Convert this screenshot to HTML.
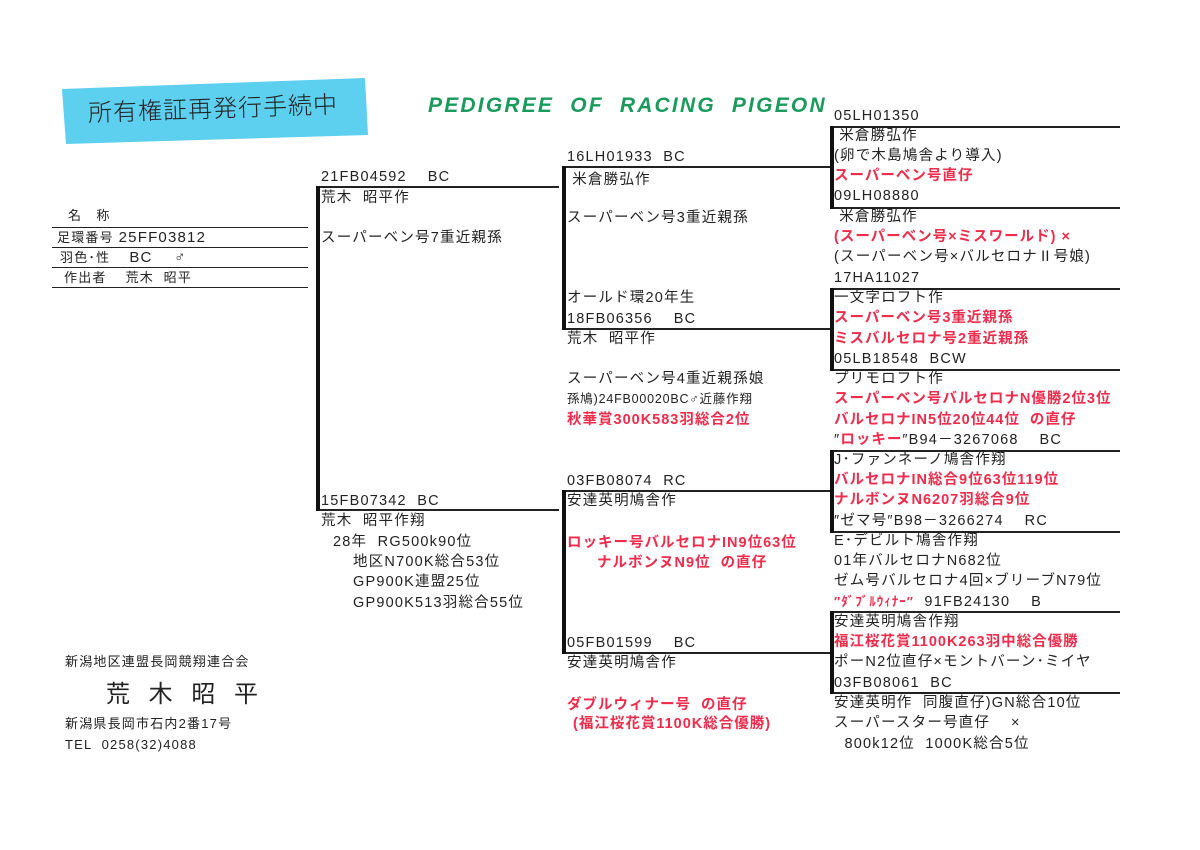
<!DOCTYPE html>
<html><head><meta charset="utf-8"><style>
body{margin:0;width:1200px;height:850px;background:#fff;position:relative;overflow:hidden;font-family:"Liberation Sans","Noto Sans CJK JP",sans-serif;color:#222}
.t{position:absolute;font-size:14.5px;line-height:20px;white-space:pre;letter-spacing:1.2px}
.r{color:#ee2c4c;font-weight:bold;letter-spacing:1px}
.h{position:absolute;height:2px;background:#222}
.v{position:absolute;width:4px;background:#111}
.s{font-size:12.5px;letter-spacing:0.8px}
</style></head><body>
<svg style="position:absolute;left:0;top:0" width="1200" height="850">
<polygon points="62,89 365,78 368,135 66,144" fill="#5cd0ee"/>
</svg>
<div class="t" style="left:88px;top:92px;font-size:24px;line-height:30px;font-family:'Noto Sans CJK JP',sans-serif;font-weight:300;color:#222;transform:rotate(-2deg);letter-spacing:1px">所有権証再発行手続中</div>
<div class="t" style="left:428px;top:93px;font-size:21px;line-height:26px;font-weight:bold;font-style:italic;color:#1a9a5c;letter-spacing:2.2px">PEDIGREE&nbsp; OF&nbsp; RACING&nbsp; PIGEON</div>

<!-- left table -->
<div class="h" style="left:52px;top:227px;width:256px;height:1px"></div>
<div class="h" style="left:52px;top:247px;width:256px;height:1px"></div>
<div class="h" style="left:52px;top:267px;width:256px;height:1px"></div>
<div class="h" style="left:52px;top:287px;width:256px;height:1px"></div>
<div class="t" style="left:68px;top:206px;font-size:13px">名　称</div>
<div class="t" style="left:57px;top:228px;font-size:13px">足環番号 <span style="font-size:15px">25FF03812</span></div>
<div class="t" style="left:60px;top:248px;font-size:13px">羽色･性　 <span style="font-size:15px">BC　 ♂</span></div>
<div class="t" style="left:64px;top:268px;font-size:13px">作出者　 荒木  昭平</div>

<!-- gen1 -->
<div class="h" style="left:316px;top:186px;width:243px"></div>
<div class="h" style="left:316px;top:509px;width:243px"></div>
<div class="v" style="left:316px;top:186px;height:325px"></div>
<div class="t" style="left:321px;top:167px">21FB04592　 BC</div>
<div class="t" style="left:321px;top:188px">荒木  昭平作</div>
<div class="t" style="left:321px;top:228px">スーパーベン号7重近親孫</div>
<div class="t" style="left:321px;top:491px">15FB07342  BC</div>
<div class="t" style="left:321px;top:511px">荒木  昭平作翔</div>
<div class="t" style="left:333px;top:532px">28年  RG500k90位</div>
<div class="t" style="left:353px;top:552px">地区N700K総合53位</div>
<div class="t" style="left:353px;top:572px">GP900K連盟25位</div>
<div class="t" style="left:353px;top:593px">GP900K513羽総合55位</div>

<!-- gen2 -->
<div class="h" style="left:562px;top:166px;width:270px"></div>
<div class="h" style="left:562px;top:328px;width:270px"></div>
<div class="v" style="left:562px;top:166px;height:164px"></div>
<div class="h" style="left:562px;top:490px;width:270px"></div>
<div class="h" style="left:562px;top:652px;width:270px"></div>
<div class="v" style="left:562px;top:490px;height:164px"></div>
<div class="t" style="left:567px;top:147px">16LH01933  BC</div>
<div class="t" style="left:567px;top:170px"> 米倉勝弘作</div>
<div class="t" style="left:567px;top:208px">スーパーベン号3重近親孫</div>
<div class="t" style="left:567px;top:288px">オールド環20年生</div>
<div class="t" style="left:567px;top:309px">18FB06356　 BC</div>
<div class="t" style="left:567px;top:329px">荒木  昭平作</div>
<div class="t" style="left:567px;top:369px">スーパーベン号4重近親孫娘</div>
<div class="t s" style="left:567px;top:389px">孫鳩)24FB00020BC♂近藤作翔</div>
<div class="t r" style="left:567px;top:410px">秋華賞300K583羽総合2位</div>
<div class="t" style="left:567px;top:471px">03FB08074  RC</div>
<div class="t" style="left:567px;top:491px">安達英明鳩舎作</div>
<div class="t r" style="left:567px;top:533px">ロッキー号バルセロナIN9位63位</div>
<div class="t r" style="left:597px;top:553px">ナルボンヌN9位  の直仔</div>
<div class="t" style="left:567px;top:633px">05FB01599　 BC</div>
<div class="t" style="left:567px;top:653px">安達英明鳩舎作</div>
<div class="t r" style="left:567px;top:695px">ダブルウィナー号  の直仔</div>
<div class="t r" style="left:573px;top:714px">(福江桜花賞1100K総合優勝)</div>

<!-- gen3 -->
<div class="h" style="left:830px;top:126px;width:290px"></div>
<div class="h" style="left:830px;top:207px;width:290px"></div>
<div class="v" style="left:830px;top:126px;height:83px"></div>
<div class="h" style="left:830px;top:288px;width:290px"></div>
<div class="h" style="left:830px;top:369px;width:290px"></div>
<div class="v" style="left:830px;top:288px;height:83px"></div>
<div class="h" style="left:830px;top:450px;width:290px"></div>
<div class="h" style="left:830px;top:531px;width:290px"></div>
<div class="v" style="left:830px;top:450px;height:83px"></div>
<div class="h" style="left:830px;top:611px;width:290px"></div>
<div class="h" style="left:830px;top:692px;width:290px"></div>
<div class="v" style="left:830px;top:611px;height:83px"></div>

<div class="t" style="left:834px;top:106px">05LH01350</div>
<div class="t" style="left:834px;top:126px"> 米倉勝弘作</div>
<div class="t" style="left:834px;top:146px">(卵で木島鳩舎より導入)</div>
<div class="t r" style="left:834px;top:166px">スーパーベン号直仔</div>
<div class="t" style="left:834px;top:186px">09LH08880</div>
<div class="t" style="left:834px;top:207px"> 米倉勝弘作</div>
<div class="t r" style="left:834px;top:227px">(スーパーベン号×ミスワールド) ×</div>
<div class="t" style="left:834px;top:247px">(スーパーベン号×バルセロナⅡ号娘)</div>
<div class="t" style="left:834px;top:268px">17HA11027</div>
<div class="t" style="left:834px;top:288px">一文字ロフト作</div>
<div class="t r" style="left:834px;top:308px">スーパーベン号3重近親孫</div>
<div class="t r" style="left:834px;top:329px">ミスバルセロナ号2重近親孫</div>
<div class="t" style="left:834px;top:349px">05LB18548  BCW</div>
<div class="t" style="left:834px;top:369px">プリモロフト作</div>
<div class="t r" style="left:834px;top:389px">スーパーベン号バルセロナN優勝2位3位</div>
<div class="t r" style="left:834px;top:410px">バルセロナIN5位20位44位  の直仔</div>
<div class="t" style="left:834px;top:430px">″<span class="r">ロッキー</span>″B94－3267068　 BC</div>
<div class="t" style="left:834px;top:450px">J･ファンネーノ鳩舎作翔</div>
<div class="t r" style="left:834px;top:470px">バルセロナIN総合9位63位119位</div>
<div class="t r" style="left:834px;top:490px">ナルボンヌN6207羽総合9位</div>
<div class="t" style="left:834px;top:511px">″ゼマ号″B98－3266274　 RC</div>
<div class="t" style="left:834px;top:531px">E･デビルト鳩舎作翔</div>
<div class="t" style="left:834px;top:551px">01年バルセロナN682位</div>
<div class="t" style="left:834px;top:571px">ゼム号バルセロナ4回×ブリーブN79位</div>
<div class="t" style="left:834px;top:592px"><span class="r" style="font-size:13px">″ﾀﾞﾌﾞﾙｳｨﾅｰ″</span>  91FB24130　 B</div>
<div class="t" style="left:834px;top:612px">安達英明鳩舎作翔</div>
<div class="t r" style="left:834px;top:632px">福江桜花賞1100K263羽中総合優勝</div>
<div class="t" style="left:834px;top:652px">ポーN2位直仔×モントバーン･ミイヤ</div>
<div class="t" style="left:834px;top:673px">03FB08061  BC</div>
<div class="t" style="left:834px;top:693px">安達英明作  同腹直仔)GN総合10位</div>
<div class="t" style="left:834px;top:713px">スーパースター号直仔　 ×</div>
<div class="t" style="left:834px;top:734px">  800k12位  1000K総合5位</div>

<!-- bottom left -->
<div class="t" style="left:65px;top:652px;font-size:13px">新潟地区連盟長岡競翔連合会</div>
<div class="t" style="left:106px;top:680px;font-size:24px;line-height:30px;letter-spacing:6px">荒 木 昭 平</div>
<div class="t" style="left:65px;top:714px;font-size:13px">新潟県長岡市石内2番17号</div>
<div class="t" style="left:65px;top:735px;font-size:13px">TEL  0258(32)4088</div>
</body></html>
